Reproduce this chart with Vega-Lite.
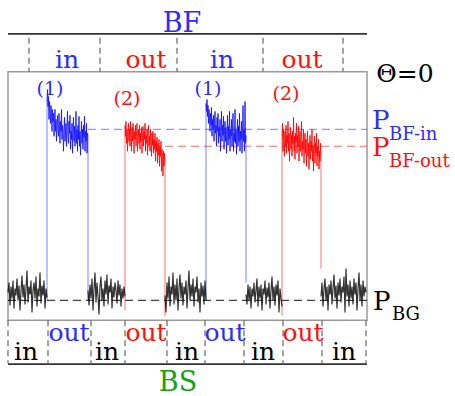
{
"$schema": "https://vega.github.io/schema/vega-lite/v6.json",
"width": 455, "height": 396,
"autosize": {"type": "fit", "contains": "padding"},
"padding": 0,
"config": {"view": {"stroke": null}, "text": {"font": "DejaVu Serif"}},
"datasets": {
"bg": [
{"s":"g1","t":0,"p":8},{"s":"g1","t":1,"p":18},{"s":"g1","t":2,"p":-5},{"s":"g1","t":3,"p":14},{"s":"g1","t":4,"p":2},{"s":"g1","t":5,"p":20},{"s":"g1","t":6,"p":-8},{"s":"g1","t":7,"p":12},{"s":"g1","t":8,"p":5},{"s":"g1","t":9,"p":22},{"s":"g1","t":10,"p":0},{"s":"g1","t":11,"p":15},{"s":"g1","t":12,"p":-10},{"s":"g1","t":13,"p":10},{"s":"g1","t":14,"p":25},{"s":"g1","t":15,"p":3},{"s":"g1","t":16,"p":16},{"s":"g1","t":17,"p":-4},{"s":"g1","t":18,"p":12},{"s":"g1","t":19,"p":30},{"s":"g1","t":20,"p":-2},{"s":"g1","t":21,"p":14},{"s":"g1","t":22,"p":6},{"s":"g1","t":23,"p":20},{"s":"g1","t":24,"p":-12},{"s":"g1","t":25,"p":10},{"s":"g1","t":26,"p":18},{"s":"g1","t":27,"p":2},{"s":"g1","t":28,"p":24},{"s":"g1","t":29,"p":-6},{"s":"g1","t":30,"p":12},{"s":"g1","t":31,"p":4},{"s":"g1","t":32,"p":28},{"s":"g1","t":33,"p":-3},{"s":"g1","t":34,"p":15},{"s":"g1","t":35,"p":5},{"s":"g1","t":36,"p":20},{"s":"g1","t":37,"p":-8},{"s":"g1","t":38,"p":12},{"s":"g1","t":39,"p":3},
{"s":"g2","t":80,"p":10},{"s":"g2","t":81,"p":-5},{"s":"g2","t":82,"p":16},{"s":"g2","t":83,"p":2},{"s":"g2","t":84,"p":22},{"s":"g2","t":85,"p":-10},{"s":"g2","t":86,"p":12},{"s":"g2","t":87,"p":28},{"s":"g2","t":88,"p":-2},{"s":"g2","t":89,"p":18},{"s":"g2","t":90,"p":4},{"s":"g2","t":91,"p":-14},{"s":"g2","t":92,"p":14},{"s":"g2","t":93,"p":24},{"s":"g2","t":94,"p":0},{"s":"g2","t":95,"p":12},{"s":"g2","t":96,"p":-6},{"s":"g2","t":97,"p":20},{"s":"g2","t":98,"p":6},{"s":"g2","t":99,"p":26},{"s":"g2","t":100,"p":-4},{"s":"g2","t":101,"p":15},{"s":"g2","t":102,"p":8},{"s":"g2","t":103,"p":22},{"s":"g2","t":104,"p":-8},{"s":"g2","t":105,"p":14},{"s":"g2","t":106,"p":3},{"s":"g2","t":107,"p":18},{"s":"g2","t":108,"p":10},{"s":"g2","t":109,"p":-3},{"s":"g2","t":110,"p":20},{"s":"g2","t":111,"p":5},{"s":"g2","t":112,"p":16},{"s":"g2","t":113,"p":-6},{"s":"g2","t":114,"p":12},{"s":"g2","t":115,"p":2},{"s":"g2","t":116,"p":14},{"s":"g2","t":117,"p":4},
{"s":"g3","t":157,"p":5},{"s":"g3","t":158,"p":-12},{"s":"g3","t":159,"p":18},{"s":"g3","t":160,"p":2},{"s":"g3","t":161,"p":24},{"s":"g3","t":162,"p":-6},{"s":"g3","t":163,"p":14},{"s":"g3","t":164,"p":6},{"s":"g3","t":165,"p":28},{"s":"g3","t":166,"p":-4},{"s":"g3","t":167,"p":16},{"s":"g3","t":168,"p":0},{"s":"g3","t":169,"p":22},{"s":"g3","t":170,"p":-10},{"s":"g3","t":171,"p":12},{"s":"g3","t":172,"p":26},{"s":"g3","t":173,"p":2},{"s":"g3","t":174,"p":18},{"s":"g3","t":175,"p":-5},{"s":"g3","t":176,"p":14},{"s":"g3","t":177,"p":6},{"s":"g3","t":178,"p":20},{"s":"g3","t":179,"p":-8},{"s":"g3","t":180,"p":12},{"s":"g3","t":181,"p":30},{"s":"g3","t":182,"p":0},{"s":"g3","t":183,"p":16},{"s":"g3","t":184,"p":4},{"s":"g3","t":185,"p":22},{"s":"g3","t":186,"p":-6},{"s":"g3","t":187,"p":14},{"s":"g3","t":188,"p":8},{"s":"g3","t":189,"p":24},{"s":"g3","t":190,"p":-2},{"s":"g3","t":191,"p":12},{"s":"g3","t":192,"p":-12},{"s":"g3","t":193,"p":18},{"s":"g3","t":194,"p":4},{"s":"g3","t":195,"p":15},{"s":"g3","t":196,"p":-4},{"s":"g3","t":197,"p":20},{"s":"g3","t":198,"p":0},
{"s":"g4","t":238,"p":6},{"s":"g4","t":239,"p":-4},{"s":"g4","t":240,"p":16},{"s":"g4","t":241,"p":0},{"s":"g4","t":242,"p":14},{"s":"g4","t":243,"p":-8},{"s":"g4","t":244,"p":12},{"s":"g4","t":245,"p":4},{"s":"g4","t":246,"p":18},{"s":"g4","t":247,"p":-2},{"s":"g4","t":248,"p":10},{"s":"g4","t":249,"p":22},{"s":"g4","t":250,"p":-6},{"s":"g4","t":251,"p":14},{"s":"g4","t":252,"p":2},{"s":"g4","t":253,"p":16},{"s":"g4","t":254,"p":-10},{"s":"g4","t":255,"p":12},{"s":"g4","t":256,"p":6},{"s":"g4","t":257,"p":20},{"s":"g4","t":258,"p":-4},{"s":"g4","t":259,"p":13},{"s":"g4","t":260,"p":3},{"s":"g4","t":261,"p":18},{"s":"g4","t":262,"p":-8},{"s":"g4","t":263,"p":10},{"s":"g4","t":264,"p":24},{"s":"g4","t":265,"p":0},{"s":"g4","t":266,"p":14},{"s":"g4","t":267,"p":-5},{"s":"g4","t":268,"p":16},{"s":"g4","t":269,"p":5},{"s":"g4","t":270,"p":20},{"s":"g4","t":271,"p":-12},{"s":"g4","t":272,"p":12},{"s":"g4","t":273,"p":2},{"s":"g4","t":274,"p":-6},
{"s":"g5","t":313,"p":4},{"s":"g5","t":314,"p":18},{"s":"g5","t":315,"p":-6},{"s":"g5","t":316,"p":12},{"s":"g5","t":317,"p":22},{"s":"g5","t":318,"p":0},{"s":"g5","t":319,"p":14},{"s":"g5","t":320,"p":-10},{"s":"g5","t":321,"p":16},{"s":"g5","t":322,"p":6},{"s":"g5","t":323,"p":20},{"s":"g5","t":324,"p":-4},{"s":"g5","t":325,"p":12},{"s":"g5","t":326,"p":26},{"s":"g5","t":327,"p":2},{"s":"g5","t":328,"p":15},{"s":"g5","t":329,"p":-8},{"s":"g5","t":330,"p":18},{"s":"g5","t":331,"p":5},{"s":"g5","t":332,"p":22},{"s":"g5","t":333,"p":-2},{"s":"g5","t":334,"p":14},{"s":"g5","t":335,"p":8},{"s":"g5","t":336,"p":24},{"s":"g5","t":337,"p":-12},{"s":"g5","t":338,"p":32},{"s":"g5","t":339,"p":4},{"s":"g5","t":340,"p":16},{"s":"g5","t":341,"p":-6},{"s":"g5","t":342,"p":20},{"s":"g5","t":343,"p":2},{"s":"g5","t":344,"p":14},{"s":"g5","t":345,"p":-4},{"s":"g5","t":346,"p":22},{"s":"g5","t":347,"p":6},{"s":"g5","t":348,"p":18},{"s":"g5","t":349,"p":-10},{"s":"g5","t":350,"p":12},{"s":"g5","t":351,"p":28},{"s":"g5","t":352,"p":0},{"s":"g5","t":353,"p":16},{"s":"g5","t":354,"p":-6},{"s":"g5","t":355,"p":20},{"s":"g5","t":356,"p":4},{"s":"g5","t":357,"p":14},{"s":"g5","t":358,"p":8}
],
"bfin": [
{"s":"i1","t":39,"p":200},{"s":"i1","t":39.5,"p":212},{"s":"i1","t":40,"p":195},{"s":"i1","t":40.5,"p":205},{"s":"i1","t":41,"p":182},{"s":"i1","t":41.5,"p":200},{"s":"i1","t":42,"p":190},{"s":"i1","t":42.5,"p":178},{"s":"i1","t":43,"p":196},{"s":"i1","t":43.5,"p":185},{"s":"i1","t":44,"p":170},{"s":"i1","t":44.5,"p":192},{"s":"i1","t":45,"p":180},{"s":"i1","t":45.5,"p":188},{"s":"i1","t":46,"p":165},{"s":"i1","t":46.5,"p":178},{"s":"i1","t":47,"p":192},{"s":"i1","t":47.5,"p":170},{"s":"i1","t":48,"p":182},{"s":"i1","t":48.5,"p":160},{"s":"i1","t":49,"p":176},{"s":"i1","t":49.5,"p":186},{"s":"i1","t":50,"p":172},{"s":"i1","t":50.5,"p":165},{"s":"i1","t":51,"p":188},{"s":"i1","t":51.5,"p":175},{"s":"i1","t":52,"p":158},{"s":"i1","t":52.5,"p":180},{"s":"i1","t":53,"p":170},{"s":"i1","t":53.5,"p":192},{"s":"i1","t":54,"p":162},{"s":"i1","t":54.5,"p":176},{"s":"i1","t":55,"p":168},{"s":"i1","t":55.5,"p":150},{"s":"i1","t":56,"p":172},{"s":"i1","t":56.5,"p":184},{"s":"i1","t":57,"p":160},{"s":"i1","t":57.5,"p":170},{"s":"i1","t":58,"p":178},{"s":"i1","t":58.5,"p":155},{"s":"i1","t":59,"p":174},{"s":"i1","t":59.5,"p":190},{"s":"i1","t":60,"p":165},{"s":"i1","t":60.5,"p":158},{"s":"i1","t":61,"p":180},{"s":"i1","t":61.5,"p":168},{"s":"i1","t":62,"p":186},{"s":"i1","t":62.5,"p":152},{"s":"i1","t":63,"p":170},{"s":"i1","t":63.5,"p":162},{"s":"i1","t":64,"p":178},{"s":"i1","t":64.5,"p":148},{"s":"i1","t":65,"p":172},{"s":"i1","t":65.5,"p":184},{"s":"i1","t":66,"p":160},{"s":"i1","t":66.5,"p":175},{"s":"i1","t":67,"p":155},{"s":"i1","t":67.5,"p":168},{"s":"i1","t":68,"p":190},{"s":"i1","t":68.5,"p":158},{"s":"i1","t":69,"p":172},{"s":"i1","t":69.5,"p":150},{"s":"i1","t":70,"p":176},{"s":"i1","t":70.5,"p":162},{"s":"i1","t":71,"p":185},{"s":"i1","t":71.5,"p":155},{"s":"i1","t":72,"p":170},{"s":"i1","t":72.5,"p":146},{"s":"i1","t":73,"p":165},{"s":"i1","t":73.5,"p":180},{"s":"i1","t":74,"p":158},{"s":"i1","t":74.5,"p":172},{"s":"i1","t":75,"p":152},{"s":"i1","t":75.5,"p":176},{"s":"i1","t":76,"p":164},{"s":"i1","t":76.5,"p":185},{"s":"i1","t":77,"p":150},{"s":"i1","t":77.5,"p":170},{"s":"i1","t":78,"p":160},{"s":"i1","t":78.5,"p":178},{"s":"i1","t":79,"p":148},{"s":"i1","t":79.5,"p":168},{"s":"i1","t":80,"p":165},
{"s":"i2","t":198,"p":198},{"s":"i2","t":198.5,"p":190},{"s":"i2","t":199,"p":202},{"s":"i2","t":199.5,"p":185},{"s":"i2","t":200,"p":196},{"s":"i2","t":200.5,"p":178},{"s":"i2","t":201,"p":192},{"s":"i2","t":201.5,"p":184},{"s":"i2","t":202,"p":170},{"s":"i2","t":202.5,"p":188},{"s":"i2","t":203,"p":176},{"s":"i2","t":203.5,"p":194},{"s":"i2","t":204,"p":165},{"s":"i2","t":204.5,"p":182},{"s":"i2","t":205,"p":172},{"s":"i2","t":205.5,"p":186},{"s":"i2","t":206,"p":160},{"s":"i2","t":206.5,"p":178},{"s":"i2","t":207,"p":190},{"s":"i2","t":207.5,"p":168},{"s":"i2","t":208,"p":176},{"s":"i2","t":208.5,"p":155},{"s":"i2","t":209,"p":184},{"s":"i2","t":209.5,"p":170},{"s":"i2","t":210,"p":188},{"s":"i2","t":210.5,"p":158},{"s":"i2","t":211,"p":174},{"s":"i2","t":211.5,"p":165},{"s":"i2","t":212,"p":182},{"s":"i2","t":212.5,"p":150},{"s":"i2","t":213,"p":172},{"s":"i2","t":213.5,"p":190},{"s":"i2","t":214,"p":160},{"s":"i2","t":214.5,"p":176},{"s":"i2","t":215,"p":166},{"s":"i2","t":215.5,"p":185},{"s":"i2","t":216,"p":152},{"s":"i2","t":216.5,"p":170},{"s":"i2","t":217,"p":180},{"s":"i2","t":217.5,"p":160},{"s":"i2","t":218,"p":174},{"s":"i2","t":218.5,"p":148},{"s":"i2","t":219,"p":168},{"s":"i2","t":219.5,"p":186},{"s":"i2","t":220,"p":156},{"s":"i2","t":220.5,"p":175},{"s":"i2","t":221,"p":162},{"s":"i2","t":221.5,"p":190},{"s":"i2","t":222,"p":150},{"s":"i2","t":222.5,"p":172},{"s":"i2","t":223,"p":165},{"s":"i2","t":223.5,"p":182},{"s":"i2","t":224,"p":155},{"s":"i2","t":224.5,"p":170},{"s":"i2","t":225,"p":188},{"s":"i2","t":225.5,"p":150},{"s":"i2","t":226,"p":168},{"s":"i2","t":226.5,"p":160},{"s":"i2","t":227,"p":192},{"s":"i2","t":227.5,"p":158},{"s":"i2","t":228,"p":172},{"s":"i2","t":228.5,"p":147},{"s":"i2","t":229,"p":166},{"s":"i2","t":229.5,"p":182},{"s":"i2","t":230,"p":155},{"s":"i2","t":230.5,"p":175},{"s":"i2","t":231,"p":160},{"s":"i2","t":231.5,"p":188},{"s":"i2","t":232,"p":150},{"s":"i2","t":232.5,"p":170},{"s":"i2","t":233,"p":162},{"s":"i2","t":233.5,"p":180},{"s":"i2","t":234,"p":148},{"s":"i2","t":234.5,"p":166},{"s":"i2","t":235,"p":196},{"s":"i2","t":235.5,"p":160},{"s":"i2","t":236,"p":172},{"s":"i2","t":236.5,"p":150},{"s":"i2","t":237,"p":200},{"s":"i2","t":237.5,"p":158},{"s":"i2","t":238,"p":166}
],
"bfout": [
{"s":"o1","t":117,"p":176},{"s":"o1","t":117.5,"p":165},{"s":"o1","t":118,"p":180},{"s":"o1","t":118.5,"p":158},{"s":"o1","t":119,"p":172},{"s":"o1","t":119.5,"p":150},{"s":"o1","t":120,"p":168},{"s":"o1","t":120.5,"p":178},{"s":"o1","t":121,"p":160},{"s":"o1","t":121.5,"p":172},{"s":"o1","t":122,"p":155},{"s":"o1","t":122.5,"p":180},{"s":"o1","t":123,"p":165},{"s":"o1","t":123.5,"p":150},{"s":"o1","t":124,"p":174},{"s":"o1","t":124.5,"p":160},{"s":"o1","t":125,"p":178},{"s":"o1","t":125.5,"p":168},{"s":"o1","t":126,"p":148},{"s":"o1","t":126.5,"p":170},{"s":"o1","t":127,"p":162},{"s":"o1","t":127.5,"p":176},{"s":"o1","t":128,"p":155},{"s":"o1","t":128.5,"p":168},{"s":"o1","t":129,"p":178},{"s":"o1","t":129.5,"p":150},{"s":"o1","t":130,"p":165},{"s":"o1","t":130.5,"p":172},{"s":"o1","t":131,"p":158},{"s":"o1","t":131.5,"p":176},{"s":"o1","t":132,"p":152},{"s":"o1","t":132.5,"p":168},{"s":"o1","t":133,"p":160},{"s":"o1","t":133.5,"p":174},{"s":"o1","t":134,"p":148},{"s":"o1","t":134.5,"p":166},{"s":"o1","t":135,"p":175},{"s":"o1","t":135.5,"p":155},{"s":"o1","t":136,"p":170},{"s":"o1","t":136.5,"p":162},{"s":"o1","t":137,"p":178},{"s":"o1","t":137.5,"p":150},{"s":"o1","t":138,"p":166},{"s":"o1","t":138.5,"p":158},{"s":"o1","t":139,"p":172},{"s":"o1","t":139.5,"p":146},{"s":"o1","t":140,"p":168},{"s":"o1","t":140.5,"p":176},{"s":"o1","t":141,"p":155},{"s":"o1","t":141.5,"p":165},{"s":"o1","t":142,"p":150},{"s":"o1","t":142.5,"p":172},{"s":"o1","t":143,"p":160},{"s":"o1","t":143.5,"p":145},{"s":"o1","t":144,"p":168},{"s":"o1","t":144.5,"p":156},{"s":"o1","t":145,"p":170},{"s":"o1","t":145.5,"p":148},{"s":"o1","t":146,"p":162},{"s":"o1","t":146.5,"p":152},{"s":"o1","t":147,"p":168},{"s":"o1","t":147.5,"p":140},{"s":"o1","t":148,"p":160},{"s":"o1","t":148.5,"p":150},{"s":"o1","t":149,"p":164},{"s":"o1","t":149.5,"p":138},{"s":"o1","t":150,"p":158},{"s":"o1","t":150.5,"p":146},{"s":"o1","t":151,"p":162},{"s":"o1","t":151.5,"p":135},{"s":"o1","t":152,"p":155},{"s":"o1","t":152.5,"p":145},{"s":"o1","t":153,"p":160},{"s":"o1","t":153.5,"p":130},{"s":"o1","t":154,"p":152},{"s":"o1","t":154.5,"p":140},{"s":"o1","t":155,"p":125},{"s":"o1","t":155.5,"p":150},{"s":"o1","t":156,"p":135},{"s":"o1","t":156.5,"p":148},{"s":"o1","t":157,"p":140},
{"s":"o2","t":274,"p":165},{"s":"o2","t":274.5,"p":178},{"s":"o2","t":275,"p":150},{"s":"o2","t":275.5,"p":172},{"s":"o2","t":276,"p":160},{"s":"o2","t":276.5,"p":145},{"s":"o2","t":277,"p":170},{"s":"o2","t":277.5,"p":155},{"s":"o2","t":278,"p":176},{"s":"o2","t":278.5,"p":148},{"s":"o2","t":279,"p":166},{"s":"o2","t":279.5,"p":158},{"s":"o2","t":280,"p":180},{"s":"o2","t":280.5,"p":150},{"s":"o2","t":281,"p":168},{"s":"o2","t":281.5,"p":140},{"s":"o2","t":282,"p":162},{"s":"o2","t":282.5,"p":174},{"s":"o2","t":283,"p":152},{"s":"o2","t":283.5,"p":166},{"s":"o2","t":284,"p":145},{"s":"o2","t":284.5,"p":170},{"s":"o2","t":285,"p":158},{"s":"o2","t":285.5,"p":184},{"s":"o2","t":286,"p":150},{"s":"o2","t":286.5,"p":165},{"s":"o2","t":287,"p":142},{"s":"o2","t":287.5,"p":168},{"s":"o2","t":288,"p":160},{"s":"o2","t":288.5,"p":178},{"s":"o2","t":289,"p":148},{"s":"o2","t":289.5,"p":166},{"s":"o2","t":290,"p":155},{"s":"o2","t":290.5,"p":175},{"s":"o2","t":291,"p":140},{"s":"o2","t":291.5,"p":162},{"s":"o2","t":292,"p":170},{"s":"o2","t":292.5,"p":150},{"s":"o2","t":293,"p":165},{"s":"o2","t":293.5,"p":180},{"s":"o2","t":294,"p":145},{"s":"o2","t":294.5,"p":160},{"s":"o2","t":295,"p":152},{"s":"o2","t":295.5,"p":172},{"s":"o2","t":296,"p":138},{"s":"o2","t":296.5,"p":158},{"s":"o2","t":297,"p":168},{"s":"o2","t":297.5,"p":148},{"s":"o2","t":298,"p":162},{"s":"o2","t":298.5,"p":135},{"s":"o2","t":299,"p":160},{"s":"o2","t":299.5,"p":170},{"s":"o2","t":300,"p":145},{"s":"o2","t":300.5,"p":158},{"s":"o2","t":301,"p":132},{"s":"o2","t":301.5,"p":155},{"s":"o2","t":302,"p":166},{"s":"o2","t":302.5,"p":142},{"s":"o2","t":303,"p":160},{"s":"o2","t":303.5,"p":150},{"s":"o2","t":304,"p":172},{"s":"o2","t":304.5,"p":140},{"s":"o2","t":305,"p":156},{"s":"o2","t":305.5,"p":130},{"s":"o2","t":306,"p":152},{"s":"o2","t":306.5,"p":165},{"s":"o2","t":307,"p":138},{"s":"o2","t":307.5,"p":158},{"s":"o2","t":308,"p":148},{"s":"o2","t":308.5,"p":168},{"s":"o2","t":309,"p":135},{"s":"o2","t":309.5,"p":155},{"s":"o2","t":310,"p":145},{"s":"o2","t":310.5,"p":162},{"s":"o2","t":311,"p":132},{"s":"o2","t":311.5,"p":150},{"s":"o2","t":312,"p":140},{"s":"o2","t":312.5,"p":158},{"s":"o2","t":313,"p":145}
],
"edges": [
{"g":"in","t":39,"p0":0,"p1":200},{"g":"in","t":80,"p0":0,"p1":165},
{"g":"out","t":117,"p0":-10,"p1":176},{"g":"out","t":157,"p0":-16,"p1":140},
{"g":"in","t":198,"p0":0,"p1":198},{"g":"in","t":238,"p0":18,"p1":166},
{"g":"out","t":274,"p0":-15,"p1":165},{"g":"out","t":313,"p0":32,"p1":145}
],
"levels": [
{"g":"in","t0":80,"t1":359,"p":172},
{"g":"out","t0":157,"t1":359,"p":155},
{"g":"none","t0":0,"t1":359,"p":0}
],
"frame": [{"t0":0,"t1":359,"p0":-20,"p1":230}],
"bandlines": [{"t0":0,"t1":359,"p":268},{"t0":0,"t1":359,"p":-64}],
"ticks": [
{"t":21,"p0":264,"p1":230},{"t":92,"p0":264,"p1":230},{"t":169,"p0":264,"p1":230},{"t":255,"p0":264,"p1":230},{"t":335,"p0":264,"p1":230},
{"t":0,"p0":-20,"p1":-63},{"t":40,"p0":-20,"p1":-63},{"t":83,"p0":-20,"p1":-63},{"t":117,"p0":-20,"p1":-63},{"t":159,"p0":-20,"p1":-63},{"t":197,"p0":-20,"p1":-63},{"t":236,"p0":-20,"p1":-63},{"t":275,"p0":-20,"p1":-63},{"t":314,"p0":-20,"p1":-63},{"t":358,"p0":-20,"p1":-63}
],
"titletext": [
{"txt":"BF","g":"in","t":174,"p":270},
{"txt":"BS","g":"bs","t":170,"p":-91}
],
"bigtext": [
{"txt":"Θ=0","g":"none","t":397,"p":220},
{"txt":"in","g":"in","t":59,"p":234},{"txt":"out","g":"out","t":138,"p":234},{"txt":"in","g":"in","t":214,"p":234},{"txt":"out","g":"out","t":294,"p":234},
{"txt":"in","g":"none","t":18,"p":-60},{"txt":"in","g":"none","t":99,"p":-60},{"txt":"in","g":"none","t":179,"p":-60},{"txt":"in","g":"none","t":255,"p":-60},{"txt":"in","g":"none","t":336,"p":-60},
{"txt":"out","g":"in","t":61,"p":-41},{"txt":"out","g":"out","t":138,"p":-41},{"txt":"out","g":"in","t":217,"p":-41},{"txt":"out","g":"out","t":295,"p":-41}
],
"numtext": [
{"txt":"(1)","g":"in","t":42,"p":207},{"txt":"(2)","g":"out","t":119,"p":196},{"txt":"(1)","g":"in","t":200,"p":207},{"txt":"(2)","g":"out","t":278,"p":201}
],
"ptext": [
{"txt":"P","g":"in","t":364,"p":172},{"txt":"P","g":"out","t":364,"p":145},{"txt":"P","g":"none","t":365,"p":-10}
],
"subtext": [
{"txt":"BF-in","g":"in","t":381,"p":161},{"txt":"BF-out","g":"out","t":381,"p":134},{"txt":"BG","g":"none","t":384,"p":-20}
]
},
"layer": [
{"data":{"name":"frame"},
 "mark":{"type":"rect","fillOpacity":0,"stroke":"#9a9a9a","strokeWidth":1.5},
 "encoding":{
  "x":{"field":"t0","type":"quantitative","scale":{"domain":[-8,447],"nice":false,"zero":false},"axis":null},
  "x2":{"field":"t1"},
  "y":{"field":"p0","type":"quantitative","scale":{"domain":[-94,302],"nice":false,"zero":false},"axis":null},
  "y2":{"field":"p1"}}},
{"data":{"name":"levels"},
 "mark":{"type":"rule","strokeDash":[8,5],"strokeWidth":1.2},
 "encoding":{
  "x":{"field":"t0","type":"quantitative"},"x2":{"field":"t1"},
  "y":{"field":"p","type":"quantitative"},
  "color":{"field":"g","type":"nominal","scale":{"domain":["in","out","bs","none"],"range":["#2b2bff","#ff1010","#13a313","#000000"]},"legend":null},
  "opacity":{"field":"g","type":"nominal","scale":{"domain":["in","out","none"],"range":[0.5,0.75,0.75]},"legend":null}}},
{"data":{"name":"edges"},
 "mark":{"type":"rule","strokeWidth":1},
 "encoding":{
  "x":{"field":"t","type":"quantitative"},
  "y":{"field":"p0","type":"quantitative"},"y2":{"field":"p1"},
  "color":{"field":"g","type":"nominal","scale":{"domain":["in","out","bs","none"],"range":["#2b2bff","#ff1010","#13a313","#000000"]},"legend":null},
  "opacity":{"value":0.6}}},
{"data":{"name":"bg"},
 "mark":{"type":"line","strokeWidth":1.2,"color":"#000000","opacity":0.8},
 "encoding":{"x":{"field":"t","type":"quantitative"},"y":{"field":"p","type":"quantitative"},"detail":{"field":"s"}}},
{"data":{"name":"bfin"},
 "mark":{"type":"line","strokeWidth":1,"color":"#1010ff","opacity":0.85},
 "encoding":{"x":{"field":"t","type":"quantitative"},"y":{"field":"p","type":"quantitative"},"detail":{"field":"s"}}},
{"data":{"name":"bfout"},
 "mark":{"type":"line","strokeWidth":1,"color":"#ff0000","opacity":0.85},
 "encoding":{"x":{"field":"t","type":"quantitative"},"y":{"field":"p","type":"quantitative"},"detail":{"field":"s"}}},
{"data":{"name":"bandlines"},
 "mark":{"type":"rule","strokeWidth":1.6,"color":"#333333"},
 "encoding":{"x":{"field":"t0","type":"quantitative"},"x2":{"field":"t1"},"y":{"field":"p","type":"quantitative"}}},
{"data":{"name":"ticks"},
 "mark":{"type":"rule","strokeWidth":1.2,"color":"#666666","strokeDash":[6,4]},
 "encoding":{"x":{"field":"t","type":"quantitative"},"y":{"field":"p0","type":"quantitative"},"y2":{"field":"p1"}}},
{"data":{"name":"titletext"},
 "mark":{"type":"text","font":"DejaVu Serif","fontSize":27,"align":"center","baseline":"alphabetic"},
 "encoding":{"x":{"field":"t","type":"quantitative"},"y":{"field":"p","type":"quantitative"},"text":{"field":"txt"},
  "color":{"field":"g","type":"nominal","scale":{"domain":["in","out","bs","none"],"range":["#2b2bff","#ff1010","#13a313","#000000"]},"legend":null}}},
{"data":{"name":"bigtext"},
 "mark":{"type":"text","font":"DejaVu Serif","fontSize":25,"align":"center","baseline":"alphabetic"},
 "encoding":{"x":{"field":"t","type":"quantitative"},"y":{"field":"p","type":"quantitative"},"text":{"field":"txt"},
  "color":{"field":"g","type":"nominal","scale":{"domain":["in","out","bs","none"],"range":["#2b2bff","#ff1010","#13a313","#000000"]},"legend":null}}},
{"data":{"name":"numtext"},
 "mark":{"type":"text","font":"DejaVu Serif","fontSize":19,"align":"center","baseline":"alphabetic"},
 "encoding":{"x":{"field":"t","type":"quantitative"},"y":{"field":"p","type":"quantitative"},"text":{"field":"txt"},
  "color":{"field":"g","type":"nominal","scale":{"domain":["in","out","bs","none"],"range":["#2b2bff","#ff1010","#13a313","#000000"]},"legend":null}}},
{"data":{"name":"ptext"},
 "mark":{"type":"text","font":"DejaVu Serif","fontSize":26,"align":"left","baseline":"alphabetic"},
 "encoding":{"x":{"field":"t","type":"quantitative"},"y":{"field":"p","type":"quantitative"},"text":{"field":"txt"},
  "color":{"field":"g","type":"nominal","scale":{"domain":["in","out","bs","none"],"range":["#2b2bff","#ff1010","#13a313","#000000"]},"legend":null}}},
{"data":{"name":"subtext"},
 "mark":{"type":"text","font":"DejaVu Serif","fontSize":18,"align":"left","baseline":"alphabetic"},
 "encoding":{"x":{"field":"t","type":"quantitative"},"y":{"field":"p","type":"quantitative"},"text":{"field":"txt"},
  "color":{"field":"g","type":"nominal","scale":{"domain":["in","out","bs","none"],"range":["#2b2bff","#ff1010","#13a313","#000000"]},"legend":null}}}
]
}
